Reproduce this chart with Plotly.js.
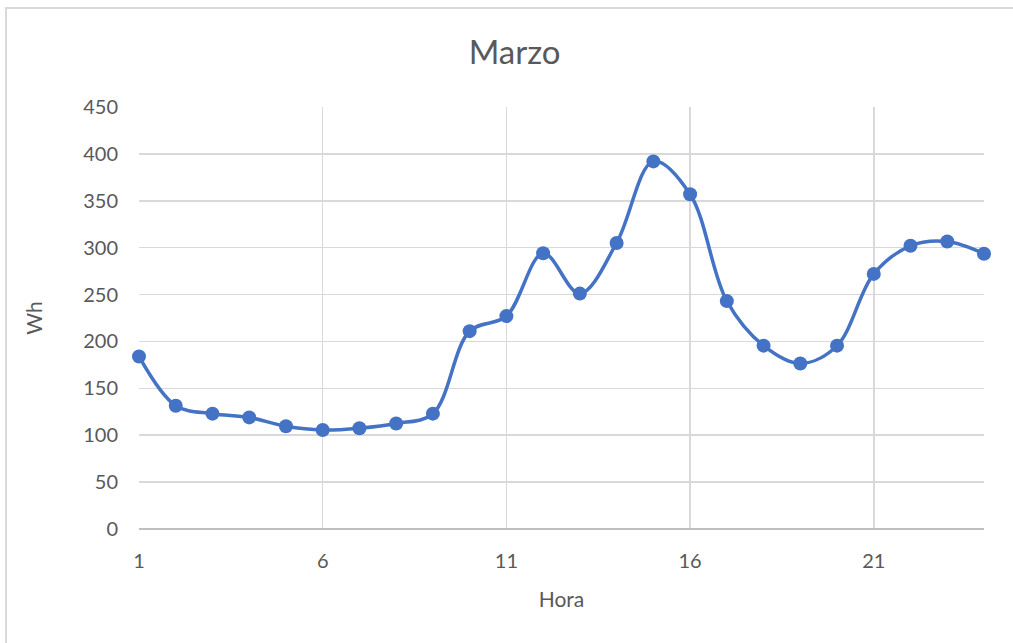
<!DOCTYPE html>
<html>
<head>
<meta charset="utf-8">
<script src="https://cdn.plot.ly/plotly-3.0.1.min.js"></script>
<style>
  html, body { margin: 0; padding: 0; background: #ffffff; }
  #chart { width: 1013px; height: 643px; }
  #frame { position: absolute; left: 5px; top: 7px; width: 1008px; height: 636px;
           border-left: 2px solid #d9d9d9; border-top: 2px solid #d9d9d9; pointer-events: none; }
</style>
</head>
<body>
<div id="chart"></div>
<div id="frame"></div>
<script>
const hours = [1,2,3,4,5,6,7,8,9,10,11,12,13,14,15,16,17,18,19,20,21,22,23,24];
const wh = [184,131.5,123,119,109.5,105.5,107.5,112.5,123,211,227,294,251,305,392,357,243,195.5,176.5,195.5,272,302,306.5,293.5];
const titleText = 'Marzo';
const xTitle = 'Hora';
const yTitle = 'Wh';

const font = 'Lato, "Open Sans", sans-serif';
const grey = '#595959';

const trace = {
  x: hours, y: wh,
  type: 'scatter', mode: 'lines+markers',
  line: {color: '#4472C4', width: 3.5, shape: 'spline', smoothing: 1},
  marker: {color: '#4472C4', size: 14},
  cliponaxis: false,
  showlegend: false, hoverinfo: 'x+y'
};

const layout = {
  width: 1013, height: 643,
  margin: {l: 139, r: 29, t: 107, b: 114},
  paper_bgcolor: '#ffffff', plot_bgcolor: '#ffffff',
  font: {family: font, color: grey, size: 20},
  title: {text: titleText, font: {family: font, size: 33, color: grey},
          x: 0.508, xref: 'container', xanchor: 'center',
          y: 1 - 52/643, yref: 'container', yanchor: 'middle'},
  xaxis: {
    range: [1, 24], tick0: 1, dtick: 5, tickmode: 'linear',
    showgrid: true, gridcolor: '#d9d9d9', gridwidth: 1.5,
    zeroline: false, showline: false,
    ticks: 'outside', ticklen: 14, tickcolor: 'rgba(0,0,0,0)',
    tickfont: {size: 20, color: grey},
    title: {text: xTitle, font: {size: 21, color: grey}, standoff: 21}
  },
  yaxis: {
    range: [0, 450], tick0: 0, dtick: 50, tickmode: 'linear',
    showgrid: true, gridcolor: '#d9d9d9', gridwidth: 1.5,
    zeroline: true, zerolinecolor: '#bfbfbf', zerolinewidth: 1.5,
    showline: false,
    ticks: 'outside', ticklen: 16, tickcolor: 'rgba(0,0,0,0)',
    tickfont: {size: 20, color: grey},
    title: {text: yTitle, font: {size: 21, color: grey}, standoff: 34}
  }
};

Plotly.newPlot('chart', [trace], layout, {displayModeBar: false, staticPlot: true});
</script>
</body>
</html>
